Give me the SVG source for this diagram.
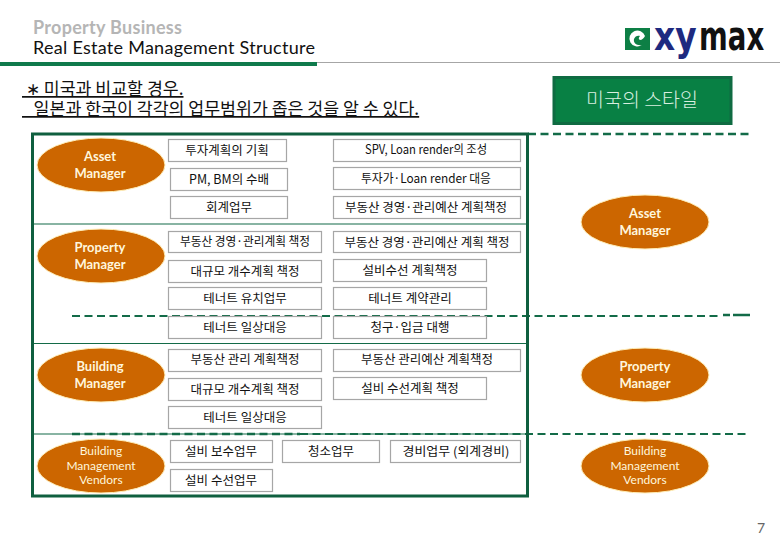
<svg xmlns="http://www.w3.org/2000/svg" width="780" height="540" viewBox="0 0 780 540">
<style>
text{font-family:"Noto Sans CJK KR","Noto Sans",sans-serif}
.b{fill:#fff;stroke:#a6a6a6;stroke-width:1.2}
.t{font-size:12.500px;text-anchor:middle;fill:#111}
.e{fill:#cc6600;stroke:#ffeeb8;stroke-width:1}
.l{font-family:"Lato","Noto Sans",sans-serif;font-size:13px;font-weight:700;text-anchor:middle;fill:#fff6dc}
.v{font-family:"Lato","Noto Sans",sans-serif;font-size:12px;text-anchor:middle;fill:#fff6dc}
.d{fill:none;stroke:#136b48;stroke-width:2;stroke-dasharray:8 4.500}
.h{stroke:#136b48;stroke-width:1.200}
.n{font-size:17.300px;fill:#111;text-decoration:underline;white-space:pre}
.m{font-family:"DejaVu Sans",sans-serif;font-size:40px;font-weight:700}
</style>
<rect width="780" height="540" fill="#fff"/>
<g id="header">
<text x="33" y="34" textLength="149" style="font-family:Lato,sans-serif;font-size:18px;font-weight:700;fill:#b5b5b5">Property Business</text>
<text x="33" y="54" textLength="282" style="font-family:Lato,sans-serif;font-size:18px;fill:#111">Real Estate Management Structure</text>
<rect x="317" y="62" width="463" height="1" fill="#a6a6a6"/>
<rect x="0" y="62" width="317" height="4" fill="#0f7a4c"/>
</g>
<g id="logo">
<rect x="625" y="28" width="25" height="22" fill="#0d7f45"/>
<path d="M645 36a8 8 0 1 0-3 9c-5 1-9-2-8-6 1-3 4-4 6-3-1 1-2 3 0 4 2 0 4-2 5-4z" fill="#fff"/>
<text class="m" transform="translate(654 50) scale(.82 1)" fill="#1e2a80">xy</text>
<text class="m" transform="translate(699 50) scale(.69 1)" fill="#111">max</text>
</g>
<g id="note">
<text x="22" y="95" class="n" xml:space="preserve"> ∗ 미국과 비교할 경우.</text>
<text x="22" y="115" class="n" xml:space="preserve">   일본과 한국이 각각의 업무범위가 좁은 것을 알 수 있다.</text>
</g>
<g id="us-style">
<rect x="554" y="77.500" width="177" height="46" fill="#088044" stroke="#0f6b42" stroke-width="3"/>
<text x="642" y="107" style="font-size:19.500px;font-weight:300;text-anchor:middle;fill:#d8efe0">미국의 스타일</text>
</g>
<g id="connectors">
<line class="h" x1="33" y1="224" x2="527" y2="224"/>
<line class="h" x1="33" y1="343.500" x2="527" y2="343.500"/>
<line class="h" x1="33" y1="434" x2="527" y2="434"/>
<line class="d" x1="528" y1="134" x2="750" y2="134" style="stroke-width:2.500"/>
<line class="d" x1="72" y1="316" x2="720" y2="316"/>
<line class="d" x1="72" y1="434" x2="300" y2="434" style="stroke-width:2.500"/>
<line class="d" x1="300" y1="434" x2="750" y2="434"/>
<line x1="723" y1="315" x2="750" y2="315" stroke="#136b48" stroke-width="2.500" stroke-dasharray="7 3 17 0"/>
<rect x="32.500" y="134" width="495" height="362" fill="none" stroke="#0f5f3f" stroke-width="3"/>
</g>
<g id="asset-l"><ellipse class="e" cx="101" cy="165" rx="64" ry="27"/><text class="l" x="100" y="161">Asset</text><text class="l" x="100" y="178">Manager</text></g>
<g id="property-l"><ellipse class="e" cx="101" cy="256" rx="64" ry="27"/><text class="l" x="100" y="252">Property</text><text class="l" x="100" y="269">Manager</text></g>
<g id="building-l"><ellipse class="e" cx="101" cy="375" rx="64" ry="27"/><text class="l" x="100" y="371">Building</text><text class="l" x="100" y="388">Manager</text></g>
<g id="vendors-l"><ellipse class="e" cx="101" cy="466" rx="64" ry="27"/><text class="v" x="101" y="455">Building</text><text class="v" x="101" y="470">Management</text><text class="v" x="101" y="484">Vendors</text></g>
<g id="asset-r"><ellipse class="e" cx="645" cy="222" rx="64" ry="27"/><text class="l" x="645" y="218">Asset</text><text class="l" x="645" y="235">Manager</text></g>
<g id="property-r"><ellipse class="e" cx="645" cy="375" rx="64" ry="27"/><text class="l" x="645" y="371">Property</text><text class="l" x="645" y="388">Manager</text></g>
<g id="vendors-r"><ellipse class="e" cx="645" cy="466" rx="64" ry="27"/><text class="v" x="645" y="455">Building</text><text class="v" x="645" y="470">Management</text><text class="v" x="645" y="484">Vendors</text></g>
<g id="n1"><rect class="b" x="168.500" y="139.500" width="118" height="22"/><text class="t" x="227" y="155">투자계획의 기획</text></g>
<g id="n2"><rect class="b" x="170.500" y="168.500" width="117" height="22"/><text class="t" x="229" y="184">PM, BM의 수배</text></g>
<g id="n3"><rect class="b" x="170.500" y="196.500" width="117" height="22"/><text class="t" x="229" y="212">회계업무</text></g>
<g id="n4"><rect class="b" x="333.500" y="139.500" width="187" height="22"/><text class="t" x="426" y="154" textLength="122" lengthAdjust="spacingAndGlyphs">SPV, Loan render의 조성</text></g>
<g id="n5"><rect class="b" x="333.500" y="167.500" width="187" height="22"/><text class="t" x="426" y="183" textLength="130" lengthAdjust="spacingAndGlyphs">투자가·Loan render 대응</text></g>
<g id="n6"><rect class="b" x="333.500" y="196.500" width="187" height="22"/><text class="t" x="426" y="212">부동산 경영·관리예산 계획책정</text></g>
<g id="n7"><rect class="b" x="168.500" y="231.500" width="153" height="21"/><text class="t" x="245" y="246" textLength="130" lengthAdjust="spacingAndGlyphs">부동산 경영·관리계획 책정</text></g>
<g id="n8"><rect class="b" x="333.500" y="231.500" width="187" height="21"/><text class="t" x="427" y="247">부동산 경영·관리예산 계획 책정</text></g>
<g id="n9"><rect class="b" x="168.500" y="260.500" width="153" height="22"/><text class="t" x="245" y="276">대규모 개수계획 책정</text></g>
<g id="n10"><rect class="b" x="333.500" y="259.500" width="153" height="22"/><text class="t" x="410" y="275">설비수선 계획책정</text></g>
<g id="n11"><rect class="b" x="168.500" y="287.500" width="153" height="22"/><text class="t" x="245" y="303">테너트 유치업무</text></g>
<g id="n12"><rect class="b" x="333.500" y="287.500" width="153" height="22"/><text class="t" x="410" y="303">테너트 계약관리</text></g>
<g id="n13"><rect class="b" x="168.500" y="316.500" width="153" height="22"/><text class="t" x="245" y="332">테너트 일상대응</text></g>
<g id="n14"><rect class="b" x="333.500" y="316.500" width="153" height="22"/><text class="t" x="410" y="332">청구·입금 대행</text></g>
<g id="n15"><rect class="b" x="168.500" y="349.500" width="153" height="22"/><text class="t" x="245" y="364">부동산 관리 계획책정</text></g>
<g id="n16"><rect class="b" x="333.500" y="349.500" width="187" height="22"/><text class="t" x="427" y="364">부동산 관리예산 계획책정</text></g>
<g id="n17"><rect class="b" x="168.500" y="378.500" width="153" height="22"/><text class="t" x="245" y="394">대규모 개수계획 책정</text></g>
<g id="n18"><rect class="b" x="333.500" y="377.500" width="153" height="22"/><text class="t" x="410" y="393">설비 수선계획 책정</text></g>
<g id="n19"><rect class="b" x="168.500" y="406.500" width="153" height="22"/><text class="t" x="245" y="422">테너트 일상대응</text></g>
<g id="n20"><rect class="b" x="170.500" y="440.500" width="102" height="22"/><text class="t" x="221" y="456">설비 보수업무</text></g>
<g id="n21"><rect class="b" x="282.500" y="440.500" width="97" height="22"/><text class="t" x="331" y="456">청소업무</text></g>
<g id="n22"><rect class="b" x="390.500" y="440.500" width="130" height="22"/><text class="t" x="456" y="456" textLength="107" lengthAdjust="spacingAndGlyphs">경비업무 (외계경비)</text></g>
<g id="n23"><rect class="b" x="170.500" y="469.500" width="102" height="22"/><text class="t" x="221" y="485">설비 수선업무</text></g>
<text x="757" y="533" style="font-family:Lato,sans-serif;font-size:14px;fill:#666">7</text>
</svg>
